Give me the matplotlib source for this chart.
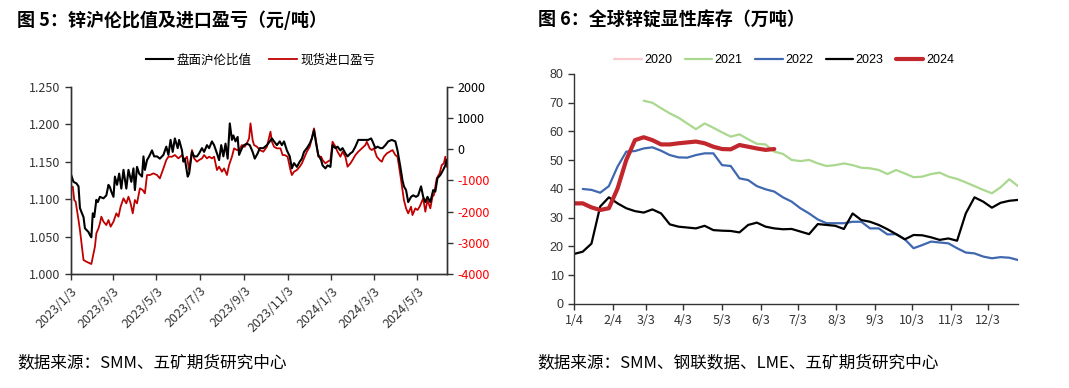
import numpy as np
import pandas as pd
import matplotlib
matplotlib.use("Agg")
import matplotlib.pyplot as plt
import matplotlib.dates as mdates

plt.rcParams['font.family'] = ['Noto Sans CJK SC', 'DejaVu Sans']

# ---------------- Chart 5 data ----------------
base_date = "2023-01-03"
ratio_days = [0, 4, 8, 11, 13, 15, 18, 20, 22, 25, 27, 29, 31, 33, 36, 38, 41, 46, 50, 53,
              55, 57, 60, 62, 65, 68, 71, 74, 78, 81, 85, 88, 90, 93, 96, 100, 102, 104, 107, 110,
              114, 117, 121, 125, 130, 134, 137, 140, 143, 146, 150, 152, 156, 158, 160, 164, 166, 170, 173, 177,
              180, 184, 187, 191, 194, 198, 201, 205, 208, 211, 214, 217, 220, 223, 226, 228, 231, 234, 236, 240,
              243, 247, 251, 255, 258, 262, 265, 270, 275, 279, 282, 285, 289, 293, 296, 299, 303, 307, 310, 313,
              317, 321, 324, 327, 331, 335, 338, 341, 344, 347, 351, 353, 357, 360, 364, 367, 371, 374, 378, 381,
              385, 388, 392, 395, 399, 403, 408, 413, 417, 421, 423, 427, 430, 434, 437, 441, 445, 450, 455, 458,
              462, 465, 467, 470, 473, 477, 480, 484, 487, 491, 494, 497, 500, 504, 508, 511, 514, 518, 522, 525, 527]
ratio_vals = [1.134, 1.123, 1.121, 1.117, 1.088, 1.083, 1.076, 1.061, 1.059, 1.056, 1.052, 1.049, 1.081, 1.076, 1.099, 1.096, 1.103, 1.101, 1.105, 1.119,
              1.116, 1.110, 1.103, 1.130, 1.119, 1.134, 1.114, 1.139, 1.114, 1.139, 1.123, 1.141, 1.112, 1.143, 1.134, 1.130, 1.157, 1.139, 1.152, 1.157,
              1.165, 1.157, 1.157, 1.154, 1.159, 1.170, 1.159, 1.179, 1.163, 1.181, 1.168, 1.179, 1.165, 1.150, 1.154, 1.130, 1.134, 1.163, 1.157, 1.157,
              1.161, 1.168, 1.163, 1.172, 1.168, 1.177, 1.172, 1.161, 1.152, 1.172, 1.157, 1.174, 1.154, 1.201, 1.179, 1.185, 1.177, 1.183, 1.159, 1.168,
              1.172, 1.174, 1.172, 1.163, 1.154, 1.161, 1.168, 1.168, 1.172, 1.177, 1.181, 1.177, 1.172, 1.177, 1.172, 1.177, 1.165, 1.157, 1.141, 1.148,
              1.143, 1.150, 1.154, 1.163, 1.168, 1.174, 1.181, 1.192, 1.174, 1.159, 1.152, 1.145, 1.141, 1.145, 1.143, 1.172, 1.168, 1.170, 1.165, 1.168,
              1.161, 1.157, 1.161, 1.163, 1.170, 1.179, 1.179, 1.179, 1.179, 1.181, 1.177, 1.168, 1.170, 1.168, 1.168, 1.172, 1.177, 1.179, 1.177, 1.165,
              1.143, 1.125, 1.117, 1.112, 1.096, 1.103, 1.105, 1.103, 1.105, 1.117, 1.103, 1.096, 1.103, 1.096, 1.112, 1.110, 1.128, 1.132, 1.139, 1.145, 1.152]

pl_days = [0, 3, 5, 7, 11, 13, 15, 18, 22, 27, 29, 32, 34, 36, 39, 41, 43, 46, 50, 53,
           56, 60, 64, 67, 70, 74, 78, 81, 84, 87, 90, 93, 97, 101, 104, 107, 111, 116, 121, 125,
           130, 134, 137, 142, 146, 151, 156, 159, 163, 166, 170, 173, 177, 180, 184, 187, 191, 194, 198, 201,
           205, 208, 212, 215, 219, 222, 226, 229, 233, 236, 240, 244, 248, 250, 252, 255, 257, 261, 265, 270,
           275, 280, 282, 285, 289, 294, 297, 300, 304, 308, 310, 313, 317, 321, 324, 327, 331, 335, 338, 341,
           344, 347, 351, 353, 357, 360, 364, 367, 371, 374, 378, 381, 385, 388, 392, 395, 399, 403, 408, 413,
           415, 419, 422, 425, 429, 433, 436, 439, 443, 447, 451, 455, 458, 462, 465, 467, 470, 473, 477, 479,
           483, 486, 489, 492, 494, 497, 500, 504, 507, 509, 513, 517, 520, 523, 525, 527]
pl_vals = [-1203, -1203, -1630, -1684, -2271, -2591, -2965, -3552, -3605, -3659, -3680, -3339, -3125, -2698, -2538, -2378, -2164, -2324, -2431, -2271,
           -2484, -2324, -2057, -2164, -1844, -1577, -1737, -1523, -1737, -2057, -1630, -1737, -1256, -1310, -1417, -829, -829, -776, -829, -936,
           -616, -349, -242, -242, -189, -296, -189, -349, -242, -669, -29, -296, -402, -349, -296, -189, -296, -242, -296, -242,
           -669, -562, -723, -616, -829, -509, -242, 25, -29, -29, 131, 78, 238, 345, 826, 292, 131, 78, -29, -82,
           78, 559, 238, 78, 25, 25, -189, -189, -242, -669, -829, -723, -669, -562, -456, -296, -82, 78, 345, 665,
           238, -242, -242, -349, -456, -402, -349, 238, 78, -82, -242, -82, -242, -562, -456, -349, -189, -82, 25, 131,
           238, 25, -29, 25, -242, -349, -402, -242, -136, -82, -29, -189, -242, -829, -1310, -1630, -1897, -2057, -1844, -2111,
           -1897, -1950, -1844, -1684, -1577, -2004, -1630, -1897, -1523, -1470, -936, -776, -509, -456, -242, -562]

x_tick_dates = ["2023-01-03", "2023-03-03", "2023-05-03", "2023-07-03", "2023-09-03",
                "2023-11-03", "2024-01-03", "2024-03-03", "2024-05-03"]
x_tick_labels = ["2023/1/3", "2023/3/3", "2023/5/3", "2023/7/3", "2023/9/3",
                 "2023/11/3", "2024/1/3", "2024/3/3", "2024/5/3"]
left_yticks = [1.000, 1.050, 1.100, 1.150, 1.200, 1.250]
right_yticks = [-4000, -3000, -2000, -1000, 0, 1000, 2000]

# ---------------- Chart 6 data ----------------
week_days = [7 * k for k in range(52)]
inv_2020 = [np.nan] * 52
inv_2021 = [np.nan] * 8 + [70.7, 70.0, 68.1, 66.3, 64.8, 62.8, 60.8, 62.8, 61.3, 59.7,
                           58.2, 59.0, 57.3, 55.7, 55.5, 53.0, 52.2, 50.1, 49.7, 50.1,
                           48.9, 48.0, 48.3, 48.9, 48.3, 47.4, 47.2, 46.6, 45.2, 46.6,
                           45.4, 44.1, 44.3, 45.2, 45.7, 44.3, 43.5, 42.3, 41.0, 39.7,
                           38.5, 40.6, 43.4, 41.0]
inv_2022 = [np.nan, 40.0, 39.7, 38.7, 41.0, 47.8, 53.0, 53.2, 54.1, 54.5,
            53.3, 51.8, 51.0, 50.9, 51.8, 52.4, 52.4, 48.3, 48.0, 43.7,
            43.1, 41.0, 39.9, 39.1, 37.1, 35.6, 33.3, 31.5, 29.4, 28.1,
            28.1, 28.1, 28.6, 28.6, 26.3, 26.3, 24.2, 24.3, 22.5, 19.4,
            20.5, 21.7, 21.4, 21.1, 19.4, 17.9, 17.6, 16.5, 15.9, 16.3,
            16.1, 15.3]
inv_2023 = [17.4, 18.2, 21.0, 33.9, 37.1, 35.0, 33.3, 32.3, 31.8, 32.9,
            31.5, 27.7, 26.9, 26.6, 26.3, 27.2, 25.7, 25.5, 25.4, 24.9,
            27.5, 28.3, 26.9, 26.3, 26.0, 26.1, 25.2, 24.3, 27.8, 27.5,
            27.2, 26.1, 31.5, 29.2, 28.6, 27.5, 26.0, 24.3, 22.5, 24.0,
            23.9, 23.2, 22.3, 22.8, 22.0, 31.5, 37.1, 35.6, 33.5, 35.2,
            35.9, 36.2]
inv_2024 = [35.0, 35.0, 33.6, 32.7, 33.3, 40.2, 50.1, 57.0, 58.0, 57.0,
            55.5, 55.5, 55.9, 56.2, 56.5, 55.9, 54.7, 53.9, 53.8, 55.3,
            54.7, 54.1, 53.6, 53.9] + [np.nan] * 28
series_names = ["2020", "2021", "2022", "2023", "2024"]
series_colors = ["#F9C9CE", "#A9D88E", "#3F68B0", "#000000", "#C1272D"]
series_widths = [1.6, 1.6, 1.6, 1.6, 3.0]
r_tick_days = [0, 31, 58, 88, 119, 150, 180, 211, 242, 272, 303, 333]
r_tick_labels = ["1/4", "2/4", "3/3", "4/3", "5/3", "6/3", "7/3", "8/3", "9/3", "10/3", "11/3", "12/3"]
r_yticks = [0, 10, 20, 30, 40, 50, 60, 70, 80]

# ---------------- Figure ----------------
fig = plt.figure(figsize=(10.69, 3.88), dpi=100)

# Left chart
ax1 = fig.add_axes([0.0661, 0.2938, 0.3518, 0.4827])
ax2 = ax1.twinx()
base = pd.Timestamp(base_date)
rd = base + pd.to_timedelta(ratio_days, unit="D")
pd_ = base + pd.to_timedelta(pl_days, unit="D")
l1, = ax1.plot(rd, ratio_vals, color="#000000", lw=1.5, label="盘面沪伦比值")
l2, = ax2.plot(pd_, pl_vals, color="#C00000", lw=1.3, label="现货进口盈亏")
ax1.set_zorder(ax2.get_zorder() + 1)
ax1.patch.set_visible(False)
ax1.set_xlim(base, base + pd.Timedelta(days=527))
ax1.set_ylim(1.0, 1.25)
ax2.set_ylim(-4000, 2000)
ax1.set_yticks(left_yticks)
ax1.set_yticklabels([f"{v:.3f}" for v in left_yticks], fontsize=9, color="#333333")
ax2.set_yticks(right_yticks)
ax2.set_yticklabels([str(v) for v in right_yticks], fontsize=9)
ax1.set_xticks(pd.to_datetime(x_tick_dates))
ax1.set_xticklabels(x_tick_labels, rotation=45, ha="right", rotation_mode="anchor", fontsize=9)
for a in (ax1, ax2):
    a.spines["top"].set_visible(False)
    for s in ("left", "right", "bottom"):
        a.spines[s].set_color("#333333")
        a.spines[s].set_linewidth(1.0)
    a.tick_params(direction="out", length=4, width=1, colors="#333333")
for lab, v in zip(ax2.get_yticklabels(), right_yticks):
    lab.set_color("#FF0000" if v < 0 else "#000000")
ax1.legend(handles=[l1, l2], loc="center", bbox_to_anchor=(0.505, 1.144), ncol=2,
           frameon=False, fontsize=9, handlelength=2.2, columnspacing=1.4, handletextpad=0.3)

# Right chart
ax3 = fig.add_axes([0.537, 0.2165, 0.4153, 0.5928])
all_series = [inv_2020, inv_2021, inv_2022, inv_2023, inv_2024]
handles = []
for name, vals, c, w in zip(series_names, all_series, series_colors, series_widths):
    h, = ax3.plot(week_days, vals, color=c, lw=w, label=name, solid_capstyle="round")
    handles.append(h)
ax3.set_xlim(0, 357)
ax3.set_ylim(0, 80)
ax3.set_yticks(r_yticks)
ax3.set_yticklabels([str(v) for v in r_yticks], fontsize=9, family=["Liberation Sans", "DejaVu Sans"], color="#333333")
ax3.set_xticks(r_tick_days)
ax3.set_xticklabels(r_tick_labels, fontsize=9, color="#333333")
ax3.spines["top"].set_visible(False)
ax3.spines["right"].set_visible(False)
for s in ("left", "bottom"):
    ax3.spines[s].set_color("#333333")
    ax3.spines[s].set_linewidth(1.0)
ax3.tick_params(direction="out", length=4, width=1, colors="#333333")
ax3.legend(handles=handles, loc="center", bbox_to_anchor=(0.473, 1.061), ncol=5,
           frameon=False, handlelength=2.2, columnspacing=1.0, handletextpad=0.2,
           prop={"family": ["Liberation Sans", "DejaVu Sans"], "size": 9})

# Titles and sources
fig.text(0.016, 0.948, "图 5：锌沪伦比值及进口盈亏（元/吨）", fontsize=13, fontweight="bold", va="center", ha="left")
fig.text(0.503, 0.948, "图 6：全球锌锭显性库存（万吨）", fontsize=13, fontweight="bold", va="center", ha="left")
fig.text(0.016, 0.064, "数据来源：SMM、五矿期货研究中心", fontsize=12, va="center", ha="left")
fig.text(0.503, 0.064, "数据来源：SMM、钢联数据、LME、五矿期货研究中心", fontsize=12, va="center", ha="left")

fig.savefig("out.png", dpi=100)
